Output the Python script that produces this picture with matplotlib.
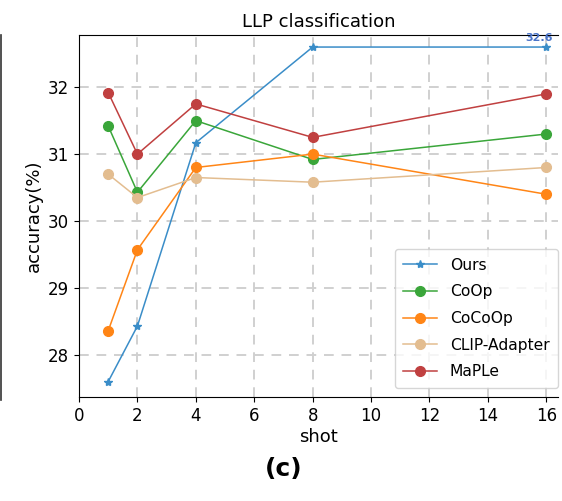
import matplotlib
matplotlib.use('Agg')
import matplotlib.pyplot as plt
from matplotlib.lines import Line2D

shots = [1, 2, 4, 8, 16]
ours = [27.6, 28.43, 31.17, 32.6, 32.6]
coop = [31.42, 30.43, 31.5, 30.92, 31.3]
cocoop = [28.36, 29.57, 30.8, 31.0, 30.4]
clip_adapter = [30.7, 30.35, 30.65, 30.58, 30.8]
maple = [31.92, 31.0, 31.75, 31.25, 31.9]

fig = plt.figure(figsize=(5.62, 5.01), dpi=100)
ax = fig.add_axes([79/562, 1-397/501, (558-79)/562, (397-35)/501])

ax.plot(shots, ours, marker='*', markersize=6, linewidth=1.1, color='#3a8dc8', label='Ours')
ax.plot(shots, coop, marker='o', markersize=7, linewidth=1.1, color='#3aa63a', label='CoOp')
ax.plot(shots, cocoop, marker='o', markersize=7, linewidth=1.1, color='#ff8516', label='CoCoOp')
ax.plot(shots, clip_adapter, marker='o', markersize=7, linewidth=1.1, color='#e3bd90', label='CLIP-Adapter')
ax.plot(shots, maple, marker='o', markersize=7, linewidth=1.1, color='#c04040', label='MaPLe')

ax.text(15.75, ours[-1] + 0.06, '%.1f' % ours[-1], color='#4a74c9', fontsize=8,
        fontweight='bold', ha='center', va='bottom')

ax.set_xlim(0, 16.4)
ax.set_ylim(27.37, 32.78)
ax.set_xticks(range(0, 17, 2))
ax.set_yticks([28, 29, 30, 31, 32])
ax.tick_params(labelsize=12)
ax.grid(True, color='#d0d0d0', linestyle=(0, (5, 4)), linewidth=1.4)
ax.spines['right'].set_visible(False)
ax.set_title('LLP classification', fontsize=13, pad=6)
ax.set_xlabel('shot', fontsize=13, labelpad=2)
ax.set_ylabel('accuracy(%)', fontsize=13)
ax.legend(loc='lower right', fontsize=11.2, handlelength=2.2, borderpad=0.55,
          labelspacing=0.75, borderaxespad=0.0, bbox_to_anchor=(1.0, 0.025))

fig.text(0.505, 0.063, '(c)', fontsize=18, fontweight='bold', ha='center', va='center')
fig.add_artist(Line2D([0.002, 0.002], [1-400/501, 1-35/501], transform=fig.transFigure,
                      color='#333333', linewidth=1.2))

fig.savefig('out.png', dpi=100)
